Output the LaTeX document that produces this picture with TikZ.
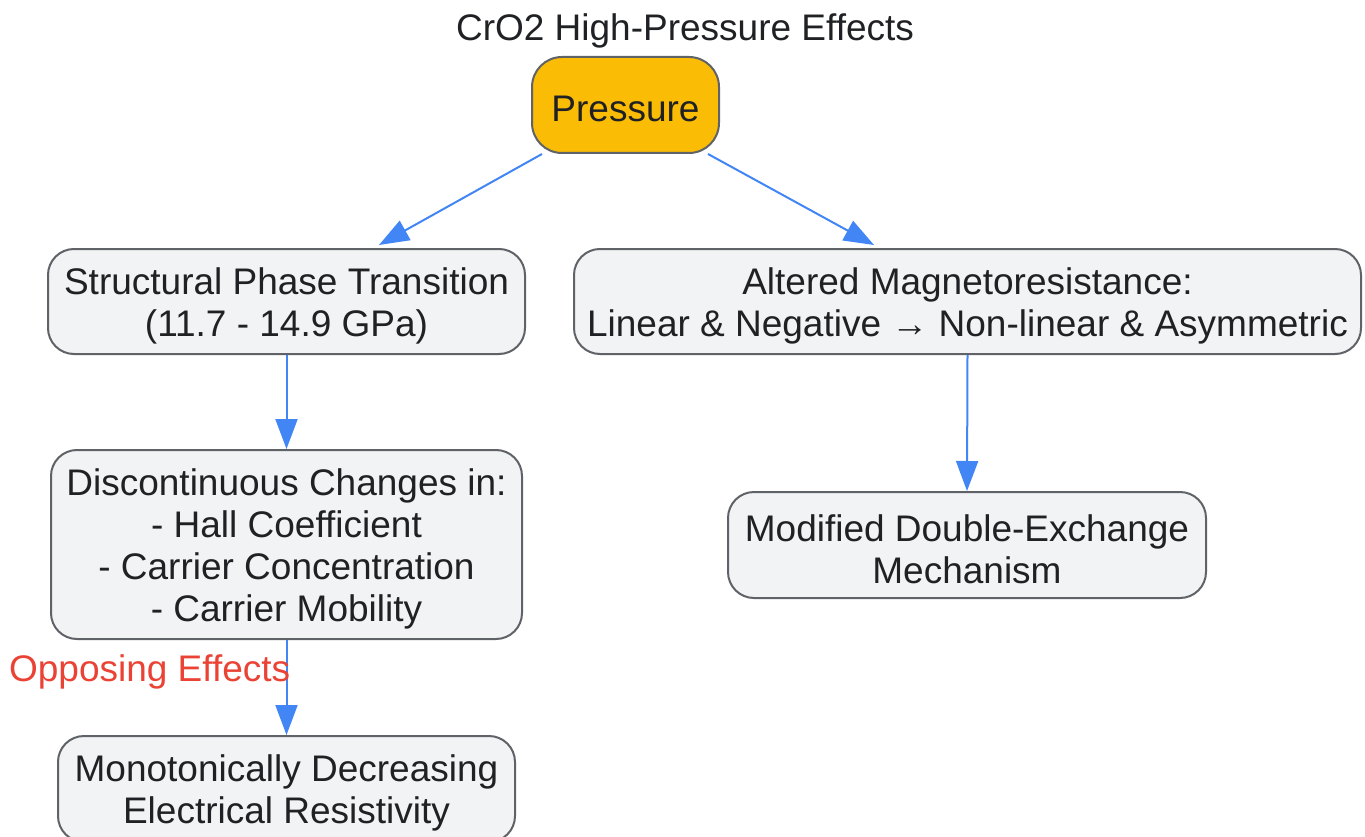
\documentclass[tikz,border=0pt]{standalone}
\usepackage{fontspec}
\setmainfont{Liberation Sans}
\usetikzlibrary{arrows.meta,calc}
\definecolor{boxfill}{HTML}{F1F3F4}
\definecolor{boxdraw}{HTML}{5F6368}
\definecolor{txt}{HTML}{202124}
\definecolor{gold}{HTML}{FBBC05}
\definecolor{arrblue}{HTML}{4285F4}
\definecolor{lblred}{HTML}{EA4335}
\tikzset{
  box/.style={draw=boxdraw, line width=2pt, fill=boxfill, rounded corners=26pt, inner sep=0pt},
  boxtext/.style={align=center, text=txt, inner sep=0pt, yshift=-4pt, font=\fontsize{37}{42}\selectfont},
  arr/.style={draw=arrblue, line width=2pt, -{Triangle[length=30pt,width=22pt]}},
}
\begin{document}
\begin{tikzpicture}[x=1pt,y=-1pt]
\useasboundingbox (0,0) rectangle (1365,837);
\node[text=txt, font=\fontsize{37}{42}\selectfont] (title) at (685,31) {CrO2 High-Pressure Effects};
\node[box, fill=gold, minimum width=187pt, minimum height=96pt, rounded corners=30pt,
  label={[boxtext]center:Pressure}] (P) at (625.5,105) {};
\node[box, minimum width=477pt, minimum height=105pt,
  label={[boxtext]center:{Structural Phase Transition\\(11.7 - 14.9 GPa)}}] (S) at (286.5,301.5) {};
\node[box, minimum width=787pt, minimum height=105pt,
  label={[boxtext]center:{Altered Magnetoresistance:\\Linear \& Negative → Non-linear \& Asymmetric}}] (A) at (967.5,301.5) {};
\node[box, minimum width=471pt, minimum height=189pt,
  label={[boxtext]center:{Discontinuous Changes in:\\- Hall Coefficient\\- Carrier Concentration\\- Carrier Mobility}}] (D) at (286.5,544.5) {};
\node[box, minimum width=478pt, minimum height=106pt,
  label={[boxtext]center:{Modified Double-Exchange\\Mechanism}}] (M) at (967,545) {};
\node[box, minimum width=457pt, minimum height=106pt,
  label={[boxtext]center:{Monotonically Decreasing\\Electrical Resistivity}}] (R) at (286.5,789) {};
\draw[arr] ($(P.south west)+(11,0)$) -- ($(S.north west)+(332,-3)$);
\draw[arr] ($(P.south west)+(177,0)$) -- ($(A.north west)+(301,-3)$);
\draw[arr] (S.south) -- (D.north);
\draw[arr] (A.south) -- (M.north);
\draw[arr] (D.south) -- node[pos=0.3, left=-8pt, yshift=-3pt, text=lblred, font=\fontsize{37}{42}\selectfont] (L) {Opposing Effects} (R.north);
\end{tikzpicture}
\end{document}
